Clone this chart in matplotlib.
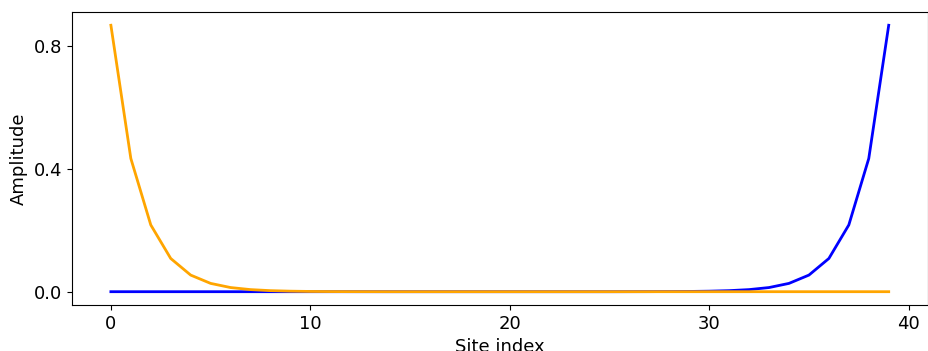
import numpy as np
import matplotlib
matplotlib.use('Agg')
import matplotlib.pyplot as plt

# edge-state amplitudes (site 0..39)
sites = np.arange(40)
left_edge = [0.866, 0.433, 0.217, 0.108, 0.054, 0.027, 0.0135, 0.0068, 0.0034, 0.0017,
             0.0008, 0.0004, 0.0002, 0.0001, 0.0, 0.0, 0.0, 0.0, 0.0, 0.0,
             0.0, 0.0, 0.0, 0.0, 0.0, 0.0, 0.0, 0.0, 0.0, 0.0,
             0.0, 0.0, 0.0, 0.0, 0.0, 0.0, 0.0, 0.0, 0.0, 0.0]
right_edge = left_edge[::-1]

plt.rc('font', family='DejaVu Sans', size=13)

fig = plt.figure(figsize=(9.29, 3.51), dpi=100)
ax = fig.add_axes([0.0775, 0.131, 0.921, 0.835])
ax.plot(sites, right_edge, color='blue', lw=2)
ax.plot(sites, left_edge, color='orange', lw=2)
ax.set_xticks([0, 10, 20, 30, 40])
ax.set_yticks([0.0, 0.4, 0.8])
ax.set_xlabel('Site index')
ax.set_ylabel('Amplitude')
fig.savefig('out.png', dpi=100)
